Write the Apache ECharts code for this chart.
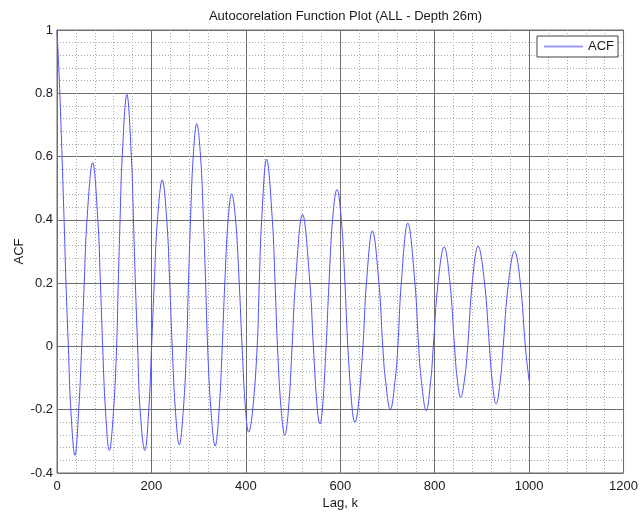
<!DOCTYPE html>
<html>
<head>
<meta charset="utf-8">
<title>Autocorelation Function Plot</title>
<script src="https://cdn.jsdelivr.net/npm/echarts@6/dist/echarts.min.js"></script>
<style>
  html, body { margin: 0; padding: 0; background: #ffffff; }
  #chart { width: 641px; height: 515px; }
</style>
</head>
<body>
<div id="chart"></div>
<script>
// Lag values (k) and the sample autocorrelation at those lags:
// start, peaks, troughs, zero crossings and grid-level crossings of the curve.
const lags = [
  0, 6, 15, 19, 24, 29.3, 38, 46, 52.3, 57.7,
  63.5, 75.5, 86.5, 92.0, 96.7, 102.6, 110.8, 119.9, 126.3, 129.8,
  133.6, 138.1, 148, 157.5, 162, 166, 170.8, 176, 186, 194.4,
  200.4, 206.0, 212.8, 223, 232.5, 238.8, 244, 250.7, 259, 267.6,
  274.5, 278.4, 282.8, 288.5, 296, 304.1, 310.2, 314.8, 319, 326.0,
  335, 343.4, 350, 355.4, 362.5, 370, 378.3, 386.0, 392, 399.4,
  406, 414.5, 424, 428.4, 433.5, 444, 456.1, 461.9, 467, 474.8,
  482.5, 490.2, 498, 505.0, 520, 535.7, 543, 551.5, 557, 562.1,
  570, 576.1, 583.7, 593, 602.3, 609.9, 616, 625.4, 631, 637.3,
  648, 655.4, 668, 681.9, 690, 695.3, 706, 716.7, 722, 729.2,
  743, 758.1, 766, 771.2, 782, 792.1, 797, 807.1, 820, 832.4,
  842, 847.5, 855, 863.6, 870, 879.5, 892, 905.6, 916, 921.2,
  930, 939.5, 945, 956.1, 969, 981.4, 992, 1000
];
const acfValues = [
  1.0, 0.8, 0.4, 0.2, 0, -0.2, -0.344, -0.2, 0, 0.2,
  0.4, 0.581, 0.4, 0.2, 0, -0.2, -0.329, -0.2, 0, 0.2,
  0.4, 0.6, 0.796, 0.6, 0.4, 0.2, 0, -0.2, -0.329, -0.2,
  0, 0.2, 0.4, 0.526, 0.4, 0.2, 0, -0.2, -0.311, -0.2,
  0, 0.2, 0.4, 0.6, 0.704, 0.6, 0.4, 0.2, 0, -0.2,
  -0.315, -0.2, 0, 0.2, 0.4, 0.482, 0.4, 0.2, 0, -0.2,
  -0.271, -0.2, 0, 0.2, 0.4, 0.592, 0.4, 0.2, 0, -0.2,
  -0.28, -0.2, 0, 0.2, 0.417, 0.2, 0, -0.2, -0.245, -0.2,
  0, 0.2, 0.4, 0.496, 0.4, 0.2, 0, -0.2, -0.24, -0.2,
  0, 0.2, 0.365, 0.2, 0, -0.1, -0.2, -0.1, 0, 0.2,
  0.39, 0.2, 0, -0.1, -0.203, -0.1, 0, 0.2, 0.315, 0.2,
  0, -0.1, -0.161, -0.1, 0, 0.2, 0.317, 0.2, 0, -0.1,
  -0.182, -0.1, 0, 0.2, 0.301, 0.2, 0, -0.11
];

const titleText = 'Autocorelation Function Plot (ALL - Depth 26m)';
const xName = 'Lag, k';
const yName = 'ACF';
const seriesName = 'ACF';

const FONT = '"Liberation Sans", Arial, Helvetica, sans-serif';
const TEXT = '#1a1a1a';
const MAJOR = '#6e6e6e';
const MINOR = '#a8a8a8';

const chart = echarts.init(document.getElementById('chart'), null, { renderer: 'canvas' });

const option = {
  backgroundColor: '#ffffff',
  animation: false,
  textStyle: { fontFamily: FONT },
  title: {
    text: titleText,
    left: 340.5,
    textAlign: 'center',
    top: 5,
    textStyle: { fontFamily: FONT, fontSize: 13, fontWeight: 'normal', color: TEXT }
  },
  grid: {
    left: 57, top: 30, right: 17, bottom: 39,
    containLabel: false,
    show: true,
    borderColor: MAJOR,
    borderWidth: 1,
    backgroundColor: '#ffffff'
  },
  legend: {
    data: [seriesName],
    right: 23,
    top: 36,
    padding: [4, 4, 4, 7],
    borderColor: '#404040',
    borderWidth: 1,
    backgroundColor: '#ffffff',
    itemWidth: 39,
    itemHeight: 2,
    icon: 'rect',
    itemStyle: { color: '#9c9cff' },
    textStyle: { fontFamily: FONT, fontSize: 13, color: TEXT }
  },
  xAxis: {
    type: 'value',
    min: 0, max: 1200, interval: 200,
    name: xName,
    nameLocation: 'middle',
    nameGap: 24,
    nameMoveOverlap: false,
    nameTextStyle: { fontFamily: FONT, fontSize: 13, color: TEXT },
    axisLine: { show: true, lineStyle: { color: MAJOR, width: 1 } },
    axisTick: { show: false },
    axisLabel: {
      fontFamily: FONT, fontSize: 13, color: TEXT, margin: 7,
      formatter: v => String(v)
    },
    splitLine: { show: true, lineStyle: { color: MAJOR, width: 1, type: 'solid' } },
    minorTick: { show: false, splitNumber: 5 },
    minorSplitLine: { show: true, lineStyle: { color: MINOR, width: 1, type: [1, 2] } }
  },
  yAxis: {
    type: 'value',
    min: -0.4, max: 1, interval: 0.2,
    name: yName,
    nameLocation: 'middle',
    nameGap: 31,
    nameMoveOverlap: false,
    nameRotate: 90,
    nameTextStyle: { fontFamily: FONT, fontSize: 13, color: TEXT },
    axisLine: { show: true, lineStyle: { color: MAJOR, width: 1 } },
    axisTick: { show: false },
    axisLabel: {
      fontFamily: FONT, fontSize: 13, color: TEXT, margin: 4,
      formatter: v => String(parseFloat(v.toFixed(1)))
    },
    splitLine: { show: true, lineStyle: { color: MAJOR, width: 1, type: 'solid' } },
    minorTick: { show: false, splitNumber: 5 },
    minorSplitLine: { show: true, lineStyle: { color: MINOR, width: 1, type: [1, 2] } }
  },
  series: [{
    name: seriesName,
    type: 'line',
    data: lags.map((k, i) => [k, acfValues[i]]),
    smooth: 0.4,
    showSymbol: false,
    symbol: 'none',
    lineStyle: { color: '#5050ff', width: 1 },
    itemStyle: { color: '#5050ff' },
    z: 5
  }]
};

chart.setOption(option);
</script>
</body>
</html>
